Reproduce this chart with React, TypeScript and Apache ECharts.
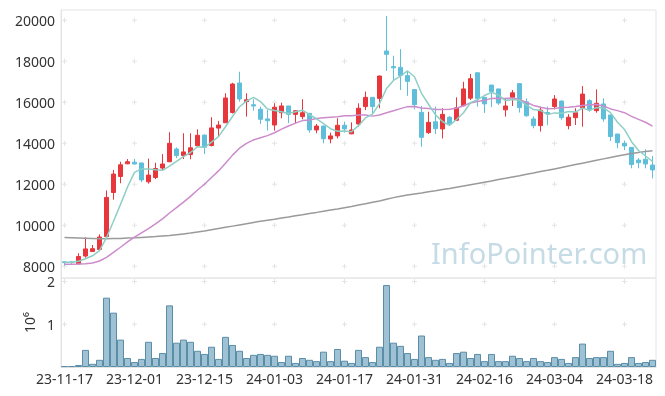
import React, { useEffect, useRef } from "react";
import * as echarts from "echarts";

const categories = [
  "23-11-17","23-11-20","23-11-21","23-11-22","23-11-23","23-11-24","23-11-27","23-11-28","23-11-29","23-11-30",
  "23-12-01","23-12-04","23-12-05","23-12-06","23-12-07","23-12-08","23-12-11","23-12-12","23-12-13","23-12-14",
  "23-12-15","23-12-18","23-12-19","23-12-20","23-12-21","23-12-22","23-12-26","23-12-27","23-12-28","24-01-02",
  "24-01-03","24-01-04","24-01-05","24-01-08","24-01-09","24-01-10","24-01-11","24-01-12","24-01-15","24-01-16",
  "24-01-17","24-01-18","24-01-19","24-01-22","24-01-23","24-01-24","24-01-25","24-01-26","24-01-29","24-01-30",
  "24-01-31","24-02-01","24-02-02","24-02-05","24-02-06","24-02-07","24-02-08","24-02-13","24-02-14","24-02-15",
  "24-02-16","24-02-19","24-02-20","24-02-21","24-02-22","24-02-23","24-02-26","24-02-27","24-02-28","24-02-29",
  "24-03-04","24-03-05","24-03-06","24-03-07","24-03-08","24-03-11","24-03-12","24-03-13","24-03-14","24-03-15",
  "24-03-18","24-03-19","24-03-20","24-03-21","24-03-22",
];

const opens = [
  8220, 8210, 8120, 8500, 8720, 8820, 9450, 11600, 12380, 13000,
  13080, 13040, 12120, 12330, 12790, 13100, 13720, 13400, 13450, 13880,
  14400, 13890, 14740, 15000, 15500, 16940, 16030, 15880, 15660, 15190,
  14890, 15490, 15820, 15410, 15300, 15460, 14650, 14840, 14210, 14360,
  14880, 14460, 14940, 15790, 16240, 16190, 18500, 17740, 17700, 17300,
  16620, 15510, 14520, 15050, 14700, 15270, 15120, 15830, 16200, 17440,
  16240, 16840, 16650, 15630, 16240, 16910, 16020, 15190, 14860, 15500,
  15790, 16060, 14860, 15250, 15730, 16080, 15590, 15920, 15380, 14450,
  14000, 13800, 13180, 13220, 12940,
];
const closes = [
  8180, 8190, 8480, 8850, 8860, 9430, 11360, 12500, 12950, 13100,
  12990, 12210, 12450, 12770, 12990, 14000, 13400, 13580, 13780, 14390,
  13800, 14750, 14890, 16210, 16890, 16160, 16120, 15820, 15170, 15100,
  15760, 15820, 15410, 15590, 15490, 14650, 14840, 14220, 14360, 14880,
  14700, 14650, 15710, 16240, 15790, 17280, 18340, 17680, 17310, 17020,
  15880, 14290, 15020, 14710, 15410, 14940, 15730, 16650, 17150, 16190,
  15920, 16520, 15960, 15820, 16460, 15740, 15340, 14860, 15620, 15430,
  16160, 15250, 15270, 15490, 16400, 15620, 15950, 15190, 14330, 14030,
  13870, 12960, 13050, 12990, 12700,
];
const lows = [
  8030, 8120, 8100, 8420, 8700, 8800, 9400, 11250, 12050, 12980,
  12960, 12100, 12030, 12250, 12690, 13080, 13280, 13230, 13220, 13860,
  13480, 13850, 14360, 14990, 15450, 16030, 15300, 15590, 14940, 14620,
  14620, 15220, 14980, 14980, 15170, 14520, 14490, 14000, 14000, 14240,
  14520, 14440, 14810, 15620, 15460, 15710, 17530, 17090, 16600, 16310,
  15650, 13830, 14450, 14450, 14240, 14840, 15100, 15800, 16110, 15790,
  15480, 15760, 15870, 15300, 15820, 15500, 15300, 14730, 14570, 14880,
  15660, 15140, 14680, 14890, 14810, 15540, 15490, 15050, 14110, 13760,
  13670, 12780, 12780, 12780, 12290,
];
const highs = [
  8230, 8240, 8640, 9410, 9040, 9560, 11700, 12700, 13100, 13230,
  13240, 13050, 13250, 13050, 13470, 14540, 13800, 14490, 14490, 14680,
  14420, 15270, 15090, 16440, 16950, 17490, 16440, 16150, 15790, 15620,
  15950, 15980, 15820, 15600, 16150, 15470, 14940, 14850, 14520, 15220,
  15050, 15020, 15950, 16520, 16250, 17300, 20210, 18270, 18590, 17490,
  16630, 15820, 15540, 15790, 15710, 15330, 16240, 17000, 17380, 17440,
  16250, 16850, 16660, 16190, 16600, 16920, 16190, 15320, 15790, 15790,
  16350, 16080, 15420, 15710, 16790, 16150, 16630, 16190, 15390, 14460,
  14130, 13810, 13280, 13710, 13380,
];

const ma5 = [
  8200, 8200, 8250, 8370, 8512, 8762, 9396, 10200, 11020, 11868,
  12580, 12750, 12740, 12704, 12682, 12884, 13122, 13348, 13550, 13830,
  13790, 14060, 14322, 14808, 15308, 15780, 16054, 16240, 16032, 15674,
  15594, 15534, 15452, 15536, 15614, 15392, 15196, 14958, 14712, 14590,
  14600, 14562, 14860, 15236, 15418, 15934, 16672, 17066, 17280, 17526,
  17246, 16436, 15904, 15384, 15062, 14874, 15162, 15488, 15976, 16132,
  16328, 16486, 16348, 16082, 16136, 16100, 15864, 15644, 15604, 15398,
  15482, 15464, 15546, 15520, 15714, 15606, 15746, 15730, 15498, 15024,
  14674, 14076, 13648, 13380, 13114,
];
const ma20 = [
  8100, 8105, 8110, 8125, 8160, 8260, 8440, 8680, 8930, 9190,
  9420, 9630, 9840, 10070, 10310, 10600, 10860, 11130, 11410, 11723,
  12004, 12332, 12653, 13021, 13422, 13759, 13997, 14163, 14274, 14374,
  14512, 14693, 14841, 14982, 15107, 15139, 15211, 15243, 15272, 15297,
  15342, 15337, 15378, 15379, 15324, 15380, 15491, 15584, 15691, 15787,
  15793, 15717, 15697, 15653, 15649, 15664, 15708, 15830, 15969, 16035,
  16096, 16189, 16202, 16181, 16214, 16137, 15987, 15846, 15762, 15682,
  15696, 15744, 15757, 15796, 15845, 15879, 15890, 15817, 15676, 15593,
  15491, 15313, 15167, 15026, 14838,
];
const ma120 = [
  9400, 9390, 9380, 9370, 9360, 9350, 9350, 9355, 9360, 9375,
  9390, 9410, 9430, 9450, 9475, 9500, 9540, 9580, 9620, 9670,
  9720, 9780, 9840, 9900, 9960, 10020, 10080, 10140, 10200, 10250,
  10300, 10360, 10410, 10470, 10520, 10580, 10630, 10690, 10750, 10800,
  10860, 10920, 10990, 11050, 11120, 11190, 11270, 11350, 11420, 11480,
  11530, 11580, 11640, 11690, 11750, 11800, 11860, 11920, 11980, 12040,
  12100, 12160, 12230, 12290, 12360, 12420, 12490, 12550, 12620, 12680,
  12750, 12820, 12890, 12960, 13030, 13100, 13170, 13240, 13310, 13380,
  13440, 13500, 13550, 13600, 13640,
];

const volumes = [
  21000, 21000, 47000, 400000, 74000, 168000, 1620000, 1270000, 640000, 210000,
  116000, 189000, 589000, 210000, 326000, 1440000, 568000, 640000, 589000, 379000,
  305000, 473000, 189000, 705000, 515000, 379000, 210000, 284000, 305000, 284000,
  263000, 116000, 263000, 95000, 210000, 168000, 137000, 358000, 137000, 421000,
  147000, 95000, 400000, 231000, 116000, 473000, 1915000, 568000, 494000, 326000,
  189000, 736000, 231000, 168000, 189000, 95000, 326000, 358000, 210000, 305000,
  137000, 305000, 137000, 137000, 263000, 210000, 137000, 210000, 137000, 116000,
  231000, 189000, 95000, 231000, 547000, 210000, 231000, 231000, 379000, 74000,
  95000, 231000, 95000, 116000, 168000,
];

const priceTicks = [8000, 10000, 12000, 14000, 16000, 18000, 20000];
const volumeTicks = [1000000, 2000000];
const labelIndices = [0, 10, 20, 30, 40, 50, 60, 70, 80];

const UP = "#e8373c";
const DOWN = "#5fbfdb";
const FONT = "'Noto Sans', sans-serif";
const CROSS = "path://M2,0H3V2H5V3H3V5H2V3H0V2H2Z";

export default function App() {
  const ref = useRef<HTMLDivElement>(null);
  useEffect(() => {
    if (!ref.current) return;
    const chart = echarts.init(ref.current, null, { renderer: "svg" });
    const candleData = opens.map((o, i) => [o, closes[i], lows[i], highs[i]]);
    const priceCross: number[][] = [];
    labelIndices.forEach((i) => priceTicks.forEach((v) => priceCross.push([i, v])));
    const volCross: number[][] = [];
    labelIndices.forEach((i) => volumeTicks.forEach((v) => volCross.push([i, v])));
    const lineCommon = {
      type: "line",
      xAxisIndex: 0,
      yAxisIndex: 0,
      symbol: "none",
      silent: true,
    };
    chart.setOption({
      animation: false,
      textStyle: { fontFamily: FONT },
      grid: [
        { left: 61, right: 9, top: 10, height: 268, show: true, borderColor: "#e4e4e4", borderWidth: 1 },
        { left: 61, right: 9, top: 278, height: 89, show: true, borderColor: "#e4e4e4", borderWidth: 1 },
      ],
      xAxis: [
        {
          type: "category",
          gridIndex: 0,
          data: categories,
          boundaryGap: true,
          axisLine: { show: false },
          axisTick: { show: false },
          axisLabel: { show: false },
          splitLine: { show: false },
        },
        {
          type: "category",
          gridIndex: 1,
          data: categories,
          boundaryGap: true,
          axisLine: { show: true, lineStyle: { color: "#e4e4e4" } },
          axisTick: { show: false },
          axisLabel: { interval: 9, color: "#333", fontSize: 14, margin: 4, fontFamily: FONT },
          splitLine: { show: false },
        },
      ],
      yAxis: [
        {
          type: "value",
          gridIndex: 0,
          min: 7430,
          max: 20500,
          splitNumber: 6,
          axisLine: { show: true, lineStyle: { color: "#e4e4e4" } },
          axisTick: { show: false },
          splitLine: { show: false },
          axisLabel: {
            color: "#333",
            fontSize: 14,
            lineHeight: 14,
            margin: 6,
            fontFamily: FONT,
            showMinLabel: false,
            showMaxLabel: false,
            formatter: (v: number) => String(v),
          },
        },
        {
          type: "value",
          gridIndex: 1,
          min: 0,
          max: 2080000,
          interval: 1000000,
          axisLine: { show: true, lineStyle: { color: "#e4e4e4" } },
          axisTick: { show: false },
          splitLine: { show: false },
          axisLabel: {
            color: "#333",
            fontSize: 14,
            lineHeight: 14,
            margin: 6,
            fontFamily: FONT,
            showMaxLabel: false,
            formatter: (v: number) => (v === 0 || v > 2000000 ? "" : String(v / 1000000)),
          },
          name: "10\u2076",
          nameLocation: "middle",
          nameRotate: 90,
          nameGap: 21,
          nameTextStyle: { color: "#333", fontSize: 14, fontFamily: FONT },
        },
      ],
      graphic: [
        {
          type: "text",
          left: 431,
          top: 238,
          z: 0,
          silent: true,
          style: {
            text: "InfoPointer.com",
            fill: "#c5dbe5",
            font: "29px 'Noto Sans', sans-serif",
          },
        },
      ],
      series: [
        {
          type: "scatter",
          xAxisIndex: 0,
          yAxisIndex: 0,
          data: priceCross,
          symbol: CROSS,
          symbolSize: 5,
          silent: true,
          z: 1,
          itemStyle: { color: "#dddddd" },
        },
        {
          type: "scatter",
          xAxisIndex: 1,
          yAxisIndex: 1,
          data: volCross,
          symbol: CROSS,
          symbolSize: 5,
          silent: true,
          z: 1,
          itemStyle: { color: "#dddddd" },
        },
        {
          type: "candlestick",
          xAxisIndex: 0,
          yAxisIndex: 0,
          data: candleData,
          barWidth: 5,
          clip: false,
          itemStyle: {
            color: UP,
            color0: DOWN,
            borderColor: UP,
            borderColor0: DOWN,
            borderWidth: 1,
          },
        },
        { ...lineCommon, data: ma120, lineStyle: { color: "#9a9a9a", width: 1.5 } },
        { ...lineCommon, data: ma20, lineStyle: { color: "#cc8ccc", width: 1.5 } },
        { ...lineCommon, data: ma5, lineStyle: { color: "#8dcfc4", width: 1.5 } },
        {
          type: "bar",
          xAxisIndex: 1,
          yAxisIndex: 1,
          data: volumes,
          barCategoryGap: "0%",
          itemStyle: {
            color: "rgba(125,172,196,0.75)",
            borderColor: "#5a8ea8",
            borderWidth: 1,
          },
        },
      ],
    });
    return () => chart.dispose();
  }, []);
  return (
    <div
      ref={ref}
      style={{ position: "fixed", left: 0, top: 0, width: 665, height: 396 }}
    />
  );
}
